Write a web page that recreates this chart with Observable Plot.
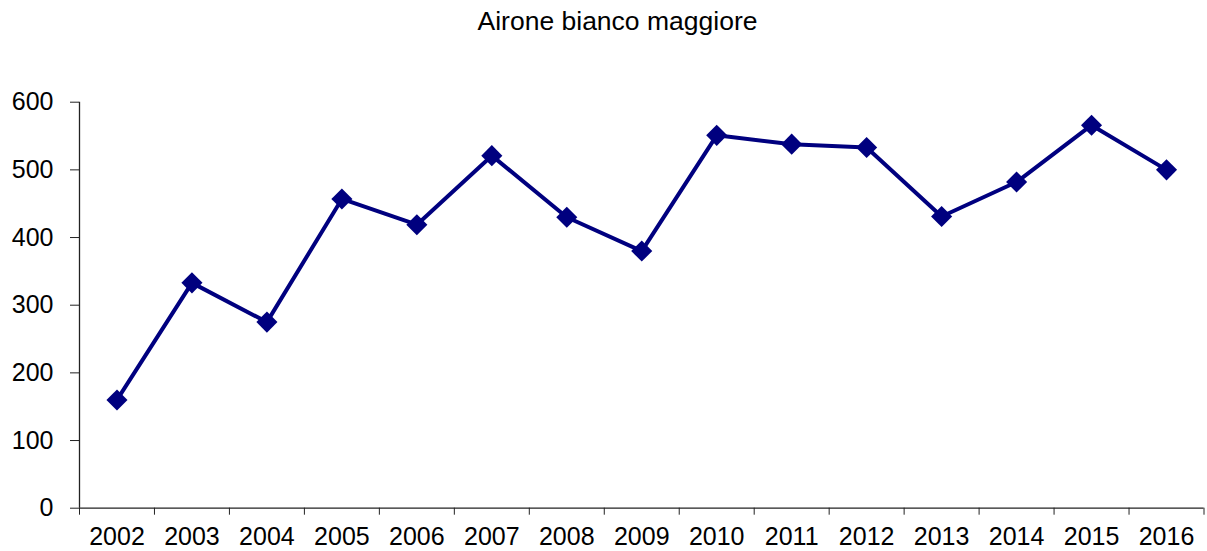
<!DOCTYPE html>
<html>
<head>
<meta charset="utf-8">
<script src="https://cdn.jsdelivr.net/npm/d3@7"></script>
<script src="https://cdn.jsdelivr.net/npm/@observablehq/plot@0.6"></script>
<style>
  html, body { margin: 0; padding: 0; background: #fff; }
  #title {
    width: 1207px; height: 50px; box-sizing: border-box;
    padding-top: 8px; padding-left: 28px;
    text-align: center; font-family: "Liberation Sans", Arial, sans-serif;
    font-size: 26.5px; line-height: 26.5px; color: #000;
  }
</style>
</head>
<body>
<div id="title">Airone bianco maggiore</div>
<div id="chart"></div>
<script>
const years = [2002, 2003, 2004, 2005, 2006, 2007, 2008, 2009, 2010, 2011, 2012, 2013, 2014, 2015, 2016];
const counts = [160, 333, 275, 457, 419, 521, 430, 380, 551, 538, 533, 431, 482, 566, 500];
const yTicks = [0, 100, 200, 300, 400, 500, 600];

const data = years.map((y, i) => ({year: y, count: counts[i]}));
const boundaries = [...years.map(y => y - 0.5), years[years.length - 1] + 0.5];
const navy = "#00007f";

const chart = Plot.plot({
  width: 1207,
  height: 501,
  marginTop: 51.7,
  marginBottom: 43.3,
  marginLeft: 79,
  marginRight: 3.5,
  x: {domain: [years[0] - 0.5, years[years.length - 1] + 0.5]},
  y: {domain: [0, 600]},
  style: {fontFamily: "'Liberation Sans', Arial, sans-serif", fontSize: "25px", color: "#000", background: "#fff"},
  marks: [
    Plot.axisY({ticks: yTicks, tickSize: 9, tickPadding: 17, tickFormat: d => String(d), label: null, stroke: "#222"}),
    Plot.axisX({ticks: boundaries, tickSize: 7, tickFormat: () => "", label: null, stroke: "#222"}),
    Plot.axisX({ticks: years, tickSize: 0, tickPadding: 19, tickFormat: d => String(d), label: null}),
    Plot.ruleX([years[0] - 0.5], {stroke: "#222", strokeWidth: 1.3}),
    Plot.ruleY([0], {stroke: "#222", strokeWidth: 1.3}),
    Plot.line(data, {x: "year", y: "count", stroke: navy, strokeWidth: 4}),
    Plot.dot(data, {x: "year", y: "count", symbol: "diamond2", r: 9.5, fill: navy, stroke: "none"})
  ]
});
document.getElementById("chart").appendChild(chart);
</script>
</body>
</html>
